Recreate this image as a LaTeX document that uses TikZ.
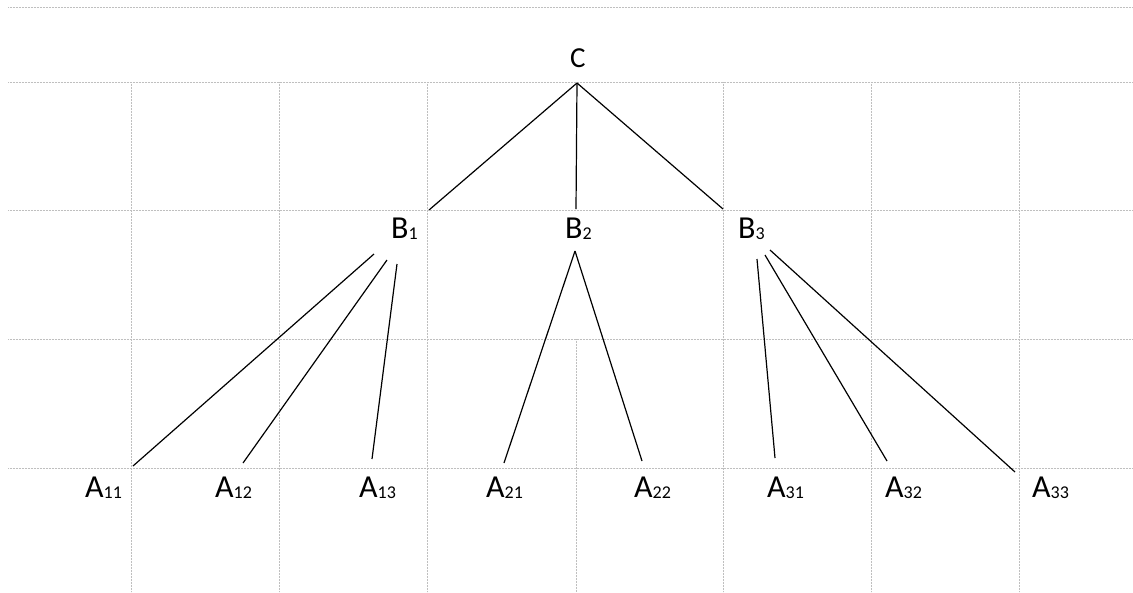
\documentclass[tikz,border=0pt]{standalone}
\usepackage{fontspec}
\setmainfont{Carlito}
\newcommand{\subs}[1]{\raisebox{-1pt}{\fontsize{18}{18}\selectfont #1}}
\begin{document}
\begin{tikzpicture}[x=1pt,y=-1pt,
  gridline/.style={draw=gray!50, line width=0.8pt, dash pattern=on 0.8pt off 0.7pt},
  edge/.style={draw=black, line width=1.2pt},
  lab/.style={anchor=base west, inner sep=0pt, font=\fontsize{32}{32}\selectfont},
  toplab/.style={anchor=base west, inner sep=0pt, font=\fontsize{29}{29}\selectfont}]
\useasboundingbox[fill=white] (0,0) rectangle (1133,592);
% grid
\foreach \y in {7,82,210,339,468} \draw[gridline] (8,\y) -- (1133,\y);
\foreach \x in {131,279,427,723,871,1019} \draw[gridline] (\x,82) -- (\x,592);
\draw[gridline] (576,339) -- (576,592);
% labels
\node[toplab] (C) at (570,67) {C};
\node[lab] (B1) at (391,238) {B\subs{1}};
\node[lab] (B2) at (565,238) {B\subs{2}};
\node[lab] (B3) at (738,238) {B\subs{3}};
\node[lab] (A11) at (85,497) {A\subs{11}};
\node[lab] (A12) at (215,497) {A\subs{12}};
\node[lab] (A13) at (359,497) {A\subs{13}};
\node[lab] (A21) at (486,497) {A\subs{21}};
\node[lab] (A22) at (634,497) {A\subs{22}};
\node[lab] (A31) at (767,497) {A\subs{31}};
\node[lab] (A32) at (885,497) {A\subs{32}};
\node[lab] (A33) at (1032,497) {A\subs{33}};
% connector end points
\coordinate (c0) at (577,83);
\coordinate (cb1) at (429,210);
\coordinate (cb2) at (576,209);
\coordinate (cb3) at (723,209);
\coordinate (b1s1) at (374,254);
\coordinate (b1s2) at (387,260);
\coordinate (b1s3) at (397,264);
\coordinate (a11e) at (133,466);
\coordinate (a12e) at (243,463);
\coordinate (a13e) at (372,459);
\coordinate (b2s) at (575,251);
\coordinate (a21e) at (504,463);
\coordinate (a22e) at (642,461);
\coordinate (b3s1) at (757,259);
\coordinate (b3s2) at (765,255);
\coordinate (b3s3) at (770,250);
\coordinate (a31e) at (775,458);
\coordinate (a32e) at (887,461);
\coordinate (a33e) at (1015,472);
% connectors
\draw[edge] (c0) -- (cb1);
\draw[edge] (c0) -- (cb2);
\draw[edge] (c0) -- (cb3);
\draw[edge] (b1s1) -- (a11e);
\draw[edge] (b1s2) -- (a12e);
\draw[edge] (b1s3) -- (a13e);
\draw[edge] (b2s) -- (a21e);
\draw[edge] (b2s) -- (a22e);
\draw[edge] (b3s1) -- (a31e);
\draw[edge] (b3s2) -- (a32e);
\draw[edge] (b3s3) -- (a33e);
\end{tikzpicture}
\end{document}
